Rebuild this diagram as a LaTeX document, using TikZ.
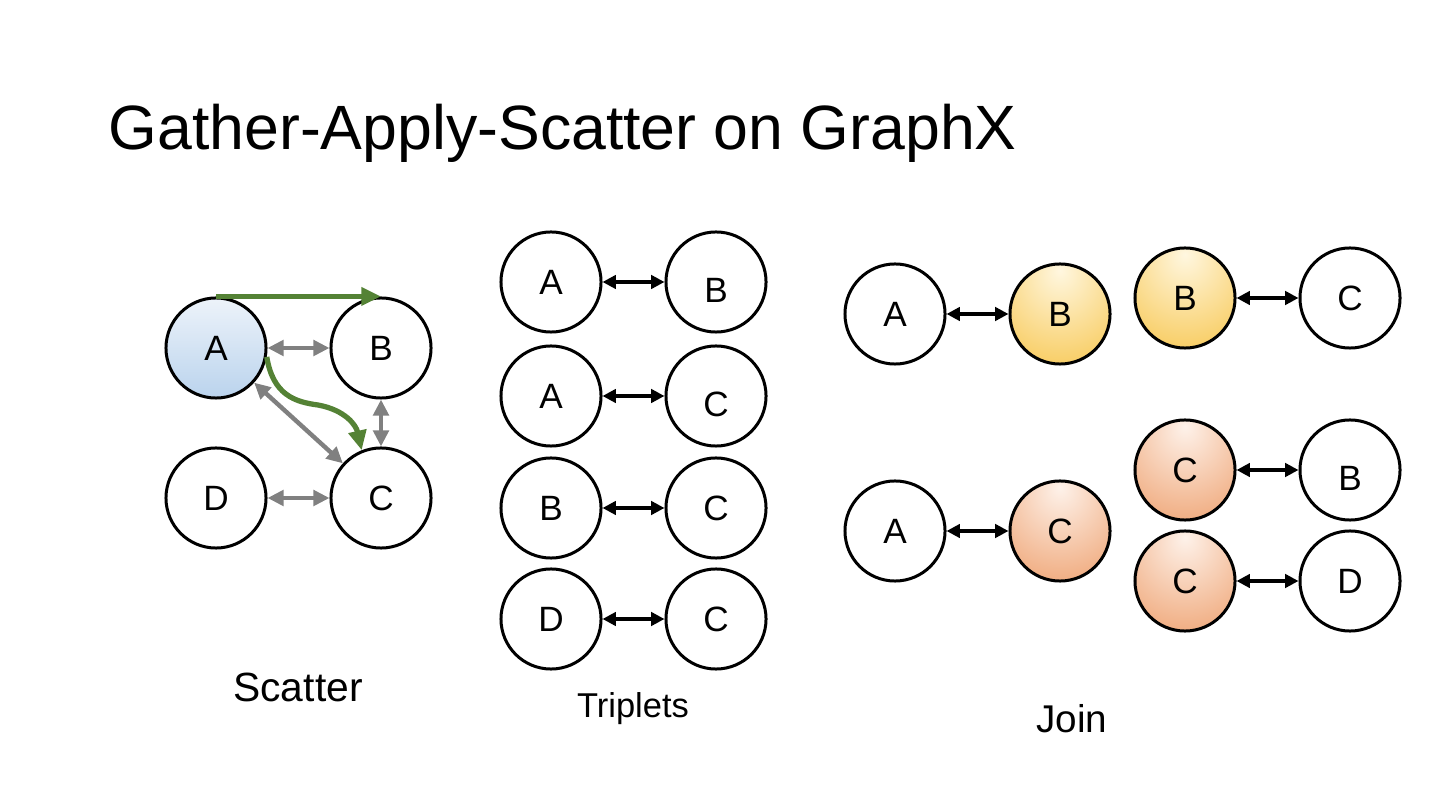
\documentclass[tikz,border=0pt]{standalone}
\usepackage{fontspec}
\setmainfont{Liberation Sans}
\usetikzlibrary{arrows.meta}
\definecolor{gasgreen}{RGB}{84,130,53}
\definecolor{gasgray}{RGB}{128,128,128}
\definecolor{blueTop}{HTML}{EDF3FA}
\definecolor{blueBot}{HTML}{BAD3ED}
\definecolor{yelIn}{HTML}{FFF7E0}
\definecolor{yelOut}{HTML}{F6C140}
\definecolor{orgIn}{HTML}{FEF2EA}
\definecolor{orgOut}{HTML}{EC9862}
\pgfdeclareradialshading{yelball}{\pgfpoint{0bp}{22bp}}{color(0bp)=(yelIn); color(50bp)=(yelOut); color(90bp)=(yelOut)}
\pgfdeclareradialshading{orgball}{\pgfpoint{0bp}{22bp}}{color(0bp)=(orgIn); color(50bp)=(orgOut); color(90bp)=(orgOut)}

\begin{document}
\begin{tikzpicture}[x=0.01cm,y=-0.01cm,
  vtx/.style={circle,draw,line width=0.85pt,minimum size=1cm,inner sep=0pt,fill=white,
    font=\fontsize{10}{12}\selectfont},
  sunk/.style={text height=11.5pt},
  blueball/.style={top color=blueTop,bottom color=blueBot},
  yellowball/.style={shade,shading=yelball},
  orangeball/.style={shade,shading=orgball},
  grayarr/.style={{Triangle[length=4.6pt,width=4.4pt]}-{Triangle[length=4.6pt,width=4.4pt]},gasgray,line width=1.25pt},
  blackarr/.style={{Triangle[length=3.8pt,width=3.8pt]}-{Triangle[length=3.8pt,width=3.8pt]},line width=1.05pt},
  greenarr/.style={-{Triangle[length=5.6pt,width=5pt]},gasgreen,line width=1.5pt}]
\useasboundingbox (0,0) rectangle (1440,810);

\node[anchor=base west,inner sep=0pt,font=\fontsize{17.8}{22}\selectfont] (title) at (108,150) {Gather-Apply-Scatter on GraphX};

%%%%%%%%%%%%%%%%%%%%%%%%%%%% scatter
\node[vtx,blueball] (sa) at (216,348) {A};\node[vtx] (sb) at (381,348) {B};
\node[vtx] (sd) at (216,498) {D};\node[vtx] (sc) at (381,498) {C};
\draw[grayarr] (sa) to (sb);\draw[grayarr] (sa) to (sc);
\draw[grayarr] (sb) to (sc);\draw[grayarr] (sd) to (sc);
\draw[greenarr] (sa.north) to (sb.north);
\draw[greenarr] (sa.-10) .. controls (273,395) and (295,402) .. (318,405) .. controls (345,410) and (356,425) .. (sc.112);
\node[anchor=base,font=\fontsize{11.6}{14}\selectfont] (scat) at (298,701) {Scatter};

%%%%%%%%%%%%%%%%%%%%%%%%%%%% triplets
\node[vtx] (t1a) at (551,282) {A};\node[vtx,sunk] (t1b) at (716,282) {B};\draw[blackarr] (t1a) to (t1b);
\node[vtx] (t2a) at (551,396) {A};\node[vtx,sunk] (t2c) at (716,396) {C};\draw[blackarr] (t2a) to (t2c);
\node[vtx] (t3b) at (551,508) {B};\node[vtx] (t3c) at (716,508) {C};\draw[blackarr] (t3b) to (t3c);
\node[vtx] (t4d) at (551,619) {D};\node[vtx] (t4c) at (716,619) {C};\draw[blackarr] (t4d) to (t4c);
\node[anchor=base,font=\fontsize{9.8}{12}\selectfont] (trip) at (633,717) {Triplets};

%%%%%%%%%%%%%%%%%%%%%%%%%%%% join
\node[vtx] (ja1) at (895,314) {A};\node[vtx,yellowball] (jb1) at (1060,314) {B};\draw[blackarr] (ja1) to (jb1);
\node[vtx,yellowball] (jb2) at (1185,298) {B};\node[vtx] (jc2) at (1350,298) {C};\draw[blackarr] (jb2) to (jc2);
\node[vtx] (ja3) at (895,531) {A};\node[vtx,orangeball] (jc3) at (1060,531) {C};\draw[blackarr] (ja3) to (jc3);
\node[vtx,orangeball] (jc4) at (1185,470) {C};\node[vtx,sunk] (jb4) at (1350,470) {B};\draw[blackarr] (jc4) to (jb4);
\node[vtx,orangeball] (jc5) at (1185,581) {C};\node[vtx] (jd5) at (1350,581) {D};\draw[blackarr] (jc5) to (jd5);
\node[anchor=base,font=\fontsize{11}{13}\selectfont] (join) at (1072,732) {Join};

\end{tikzpicture}
\end{document}
